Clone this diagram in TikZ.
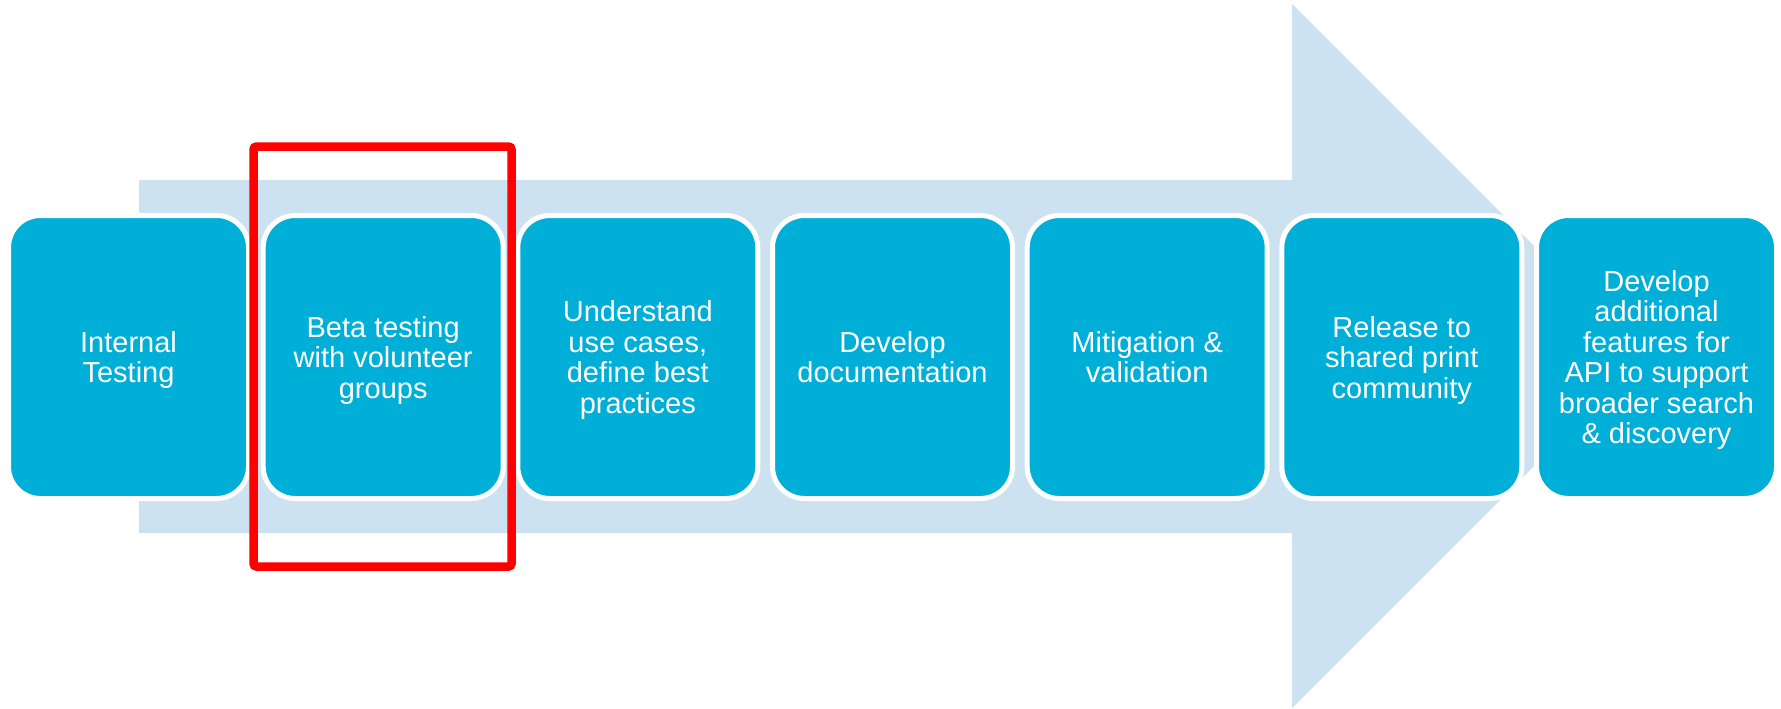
\documentclass[tikz,border=0pt]{standalone}
\usepackage{fontspec}
\setmainfont{Liberation Sans}
\definecolor{boxblue}{RGB}{0,175,216}
\definecolor{arrowblue}{RGB}{204,226,240}
\definecolor{hired}{RGB}{255,0,0}
\begin{document}
\begin{tikzpicture}[x=1pt,y=-1pt,
  stepbox/.style={rectangle, rounded corners=32pt, fill=boxblue, draw=white,
    line width=5pt, minimum width=240pt, minimum height=283pt, inner sep=0pt,
    text=white, align=center, font=\fontsize{29}{30.5}\selectfont, text depth=0pt},
  bigarrow/.style={fill=arrowblue, draw=none},
  highlight/.style={draw=hired, line width=8.5pt, rounded corners=3pt}]
\useasboundingbox (0,0) rectangle (1781,709);
% background arrow
\fill[bigarrow] (139,180) -- (1292,180) -- (1292,4) -- (1644,356) -- (1292,708)
  -- (1292,533) -- (139,533) -- cycle;
% steps
\node[stepbox] (s1) at (128.5,357) {Internal\\Testing};
\node[stepbox] (s2) at (383.2,357) {Beta testing\\with volunteer\\groups};
\node[stepbox] (s3) at (637.8,357) {Understand\\use cases,\\define best\\practices};
\node[stepbox] (s4) at (892.5,357) {Develop\\documentation};
\node[stepbox] (s5) at (1147.2,357) {Mitigation \&\\validation};
\node[stepbox] (s6) at (1401.8,357) {Release to\\shared print\\community};
\node[stepbox] (s7) at (1656.5,357) {Develop\\additional\\features for\\API to support\\broader search\\\& discovery};
% highlight frame
\draw[highlight] (253.5,146.5) rectangle (511.5,566.5);
\end{tikzpicture}
\end{document}
